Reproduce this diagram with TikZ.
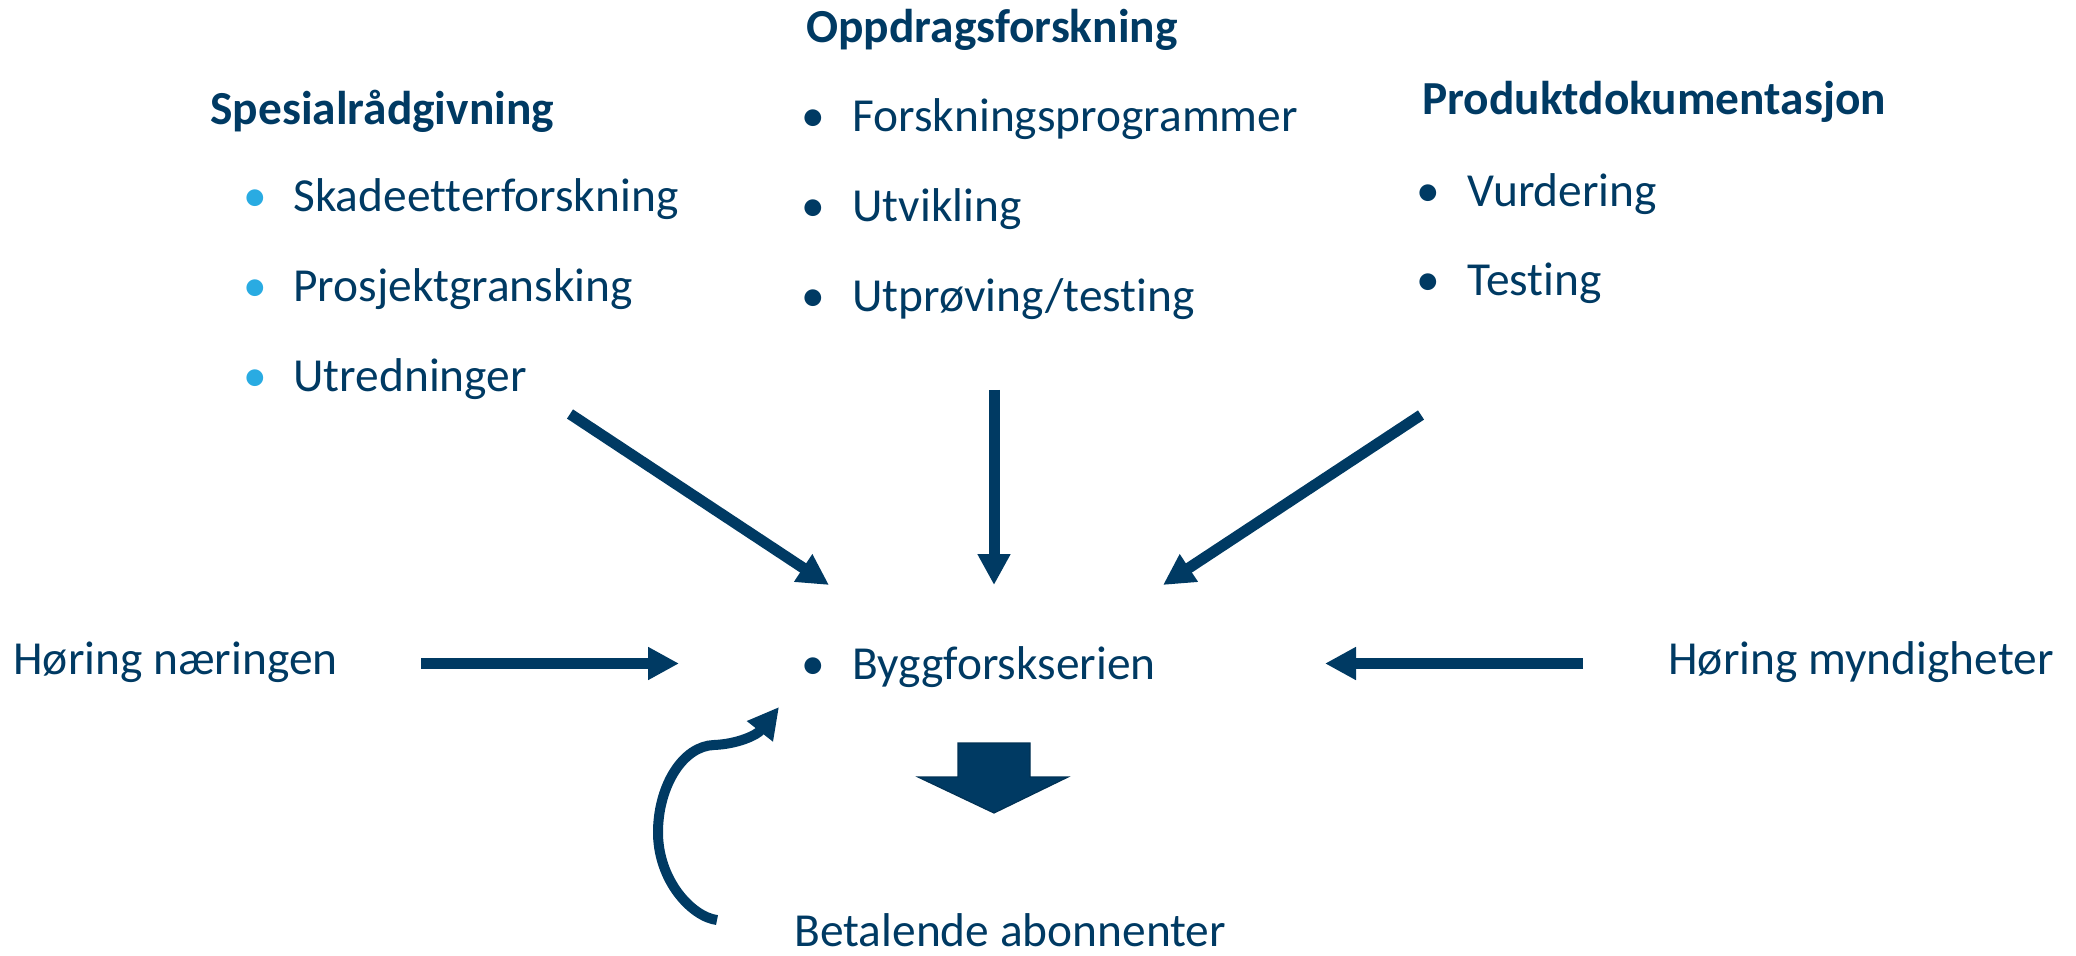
\documentclass[tikz,border=0pt]{standalone}
\usepackage{fontspec}
\setmainfont{Carlito}[Ligatures={NoCommon}]
\usetikzlibrary{arrows.meta}
\definecolor{navy}{RGB}{0,58,99}
\definecolor{sky}{RGB}{41,171,226}
\tikzset{
  txt/.style={inner sep=0pt, anchor=base west, text=navy, font=\fontsize{23.7}{28}\selectfont},
  hd/.style={txt, font=\fontsize{23.7}{28}\selectfont\bfseries},
  bul/.style={inner sep=0pt, anchor=base, text=navy, font=\fontsize{23.7}{28}\selectfont},
  lbul/.style={bul, text=sky},
  flow/.style={color=navy, line width=5.5pt, -{Triangle[length=15.5pt,width=15.5pt]}},
  curveflow/.style={color=navy, line width=5pt, -{Triangle[length=15.5pt,width=15.5pt]}},
  blockarrow/.style={fill=navy, draw=navy!85!black, line width=0.6pt, line join=miter},
}
\begin{document}
\begin{tikzpicture}[x=0.5pt,y=-0.5pt]
\useasboundingbox (0,0) rectangle (2076,956);

% Left column
\node[hd] (sp) at (210,125) {Spesialrådgivning};
\node[lbul] (sb1) at (255,212) {\textbullet};
\node[txt] (s1) at (293,212) {Skadeetterforskning};
\node[lbul] (sb2) at (255,302) {\textbullet};
\node[txt] (s2) at (293,302) {Prosjektgransking};
\node[lbul] (sb3) at (255,392) {\textbullet};
\node[txt] (s3) at (293,392) {Utredninger};

% Middle column
\node[hd] (op) at (806,43) {Oppdragsforskning};
\node[bul] (ob1) at (813,132) {\textbullet};
\node[txt] (o1) at (852,132) {Forskningsprogrammer};
\node[bul] (ob2) at (813,222) {\textbullet};
\node[txt] (o2) at (852,222) {Utvikling};
\node[bul] (ob3) at (813,312) {\textbullet};
\node[txt] (o3) at (852,312) {Utprøving/testing};

% Right column
\node[hd] (pd) at (1422,115) {Produktdokumentasjon};
\node[bul] (pb1) at (1428,207) {\textbullet};
\node[txt] (p1) at (1467,207) {Vurdering};
\node[bul] (pb2) at (1428,296) {\textbullet};
\node[txt] (p2) at (1467,296) {Testing};

% Middle row
\node[txt] (hn) at (13,674) {Høring næringen};
\node[txt] (hm) at (1668,674) {Høring myndigheter};
\node[bul] (bb) at (813,679) {\textbullet};
\node[txt] (by) at (852,679) {Byggforskserien};

% Bottom
\node[txt] (ba) at (794,946) {Betalende abonnenter};

% Arrow end points
\coordinate (a1s) at (570,414);
\coordinate (a1e) at (829,585);
\coordinate (a2s) at (994,390);
\coordinate (a2e) at (994,585);
\coordinate (a3s) at (1421,415);
\coordinate (a3e) at (1163,585);
\coordinate (a4s) at (421,663.5);
\coordinate (a4e) at (679,663.5);
\coordinate (a5s) at (1583,663.5);
\coordinate (a5e) at (1325,663.5);
\coordinate (c1) at (717,920);
\coordinate (c2) at (779,707);

\draw[flow] (a1s) -- (a1e);
\draw[flow] (a2s) -- (a2e);
\draw[flow] (a3s) -- (a3e);
\draw[flow] (a4s) -- (a4e);
\draw[flow] (a5s) -- (a5e);

\draw[curveflow] (c1) .. controls (692,917) and (657,880) .. (658,830)
  .. controls (659,785) and (683,746) .. (714,745)
  .. controls (738,744) and (757,735) .. (c2);

% Block arrow down
\path[blockarrow] (958,743) -- (1030,743) -- (1030,777) -- (1068,777)
  -- (994,813) -- (918,777) -- (958,777) -- cycle;
\end{tikzpicture}
\end{document}
